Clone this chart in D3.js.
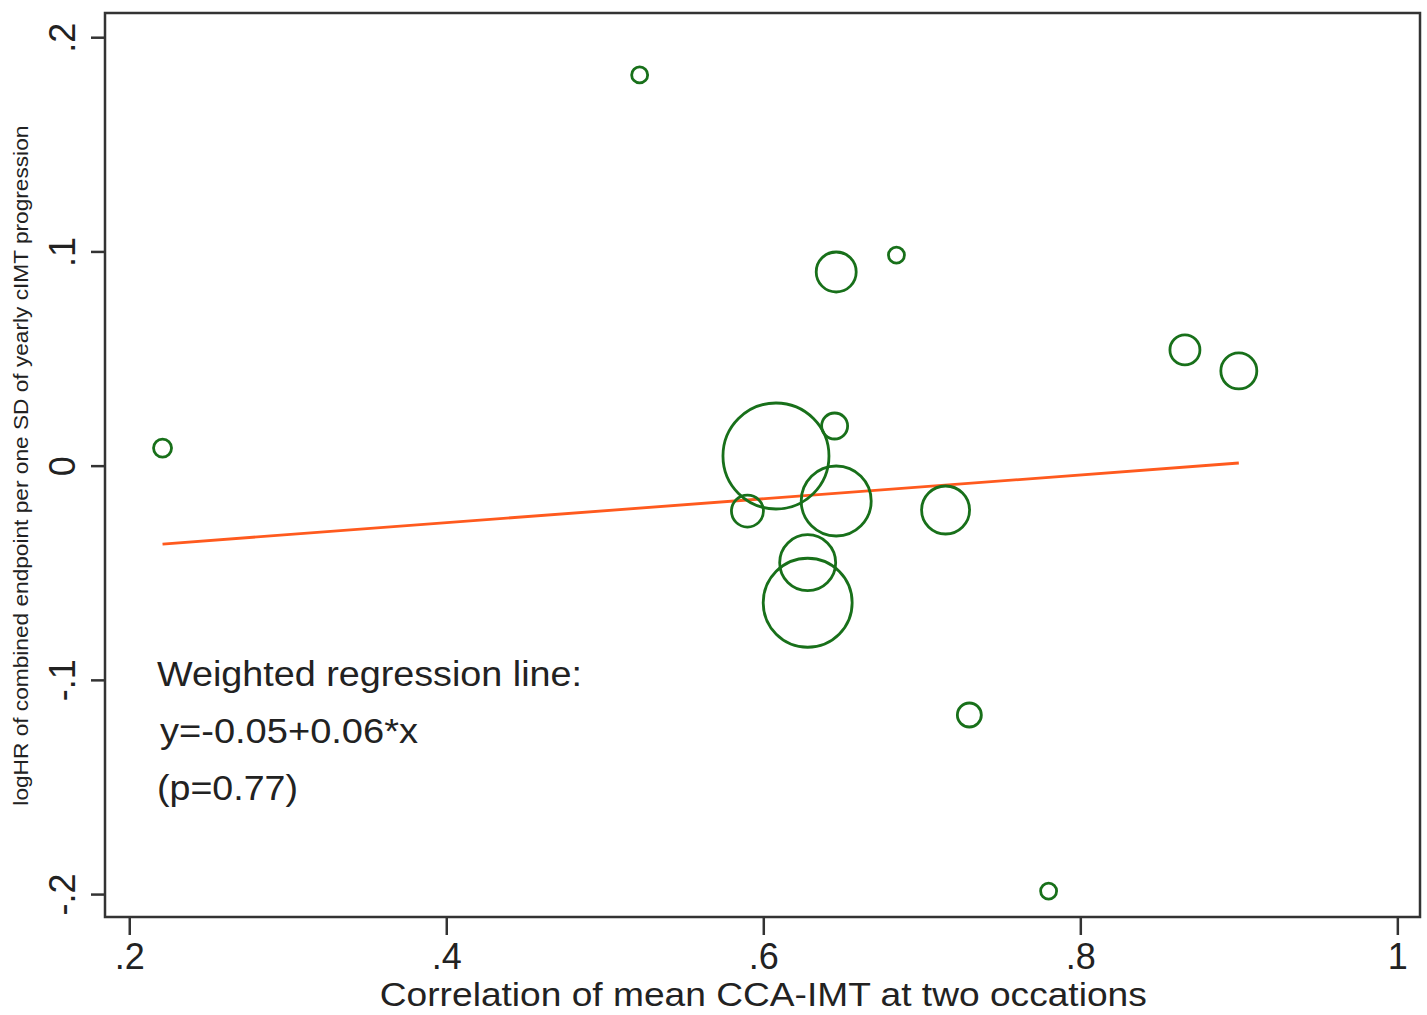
<!DOCTYPE html>
<html>
<head>
<meta charset="utf-8">
<script src="https://cdn.jsdelivr.net/npm/d3@7"></script>
<style>
    body { margin: 0; background: #fff; }
    text { font-family: "Liberation Sans", Arial, sans-serif; fill: #222; }
</style>
</head>
<body>
<div id="chart"></div>
<script>
var svgWidth = 1427;
var svgHeight = 1015;

// plot frame in pixels
var margin = { top: 13, right: 7, bottom: 98, left: 105 };
var width = svgWidth - margin.left - margin.right;
var height = svgHeight - margin.top - margin.bottom;

// study-level data
var corrValues = [0.221, 0.522, 0.646, 0.684, 0.866, 0.900, 0.608, 0.645, 0.590, 0.646, 0.715, 0.628, 0.628, 0.730, 0.780];
var logHR = [0.0082, 0.1824, 0.0904, 0.0983, 0.0540, 0.0442, 0.0045, 0.0185, -0.0212, -0.0165, -0.0207, -0.0453, -0.0640, -0.1164, -0.1986];
var weights = [8.1, 6.4, 40, 6.4, 22.5, 32.4, 281, 16.9, 25.6, 122.5, 57.6, 78.4, 198, 14.4, 6.4];

// weighted regression line
var intercept = -0.0489;
var slope = 0.0557;

var xTicks = [0.2, 0.4, 0.6, 0.8, 1];
var yTicks = [-0.2, -0.1, 0, 0.1, 0.2];
var xTickLabels = [".2", ".4", ".6", ".8", "1"];
var yTickLabels = ["-.2", "-.1", "0", ".1", ".2"];
var noteLines = ["Weighted regression line:", "y=-0.05+0.06*x", "(p=0.77)"];
var noteWidths = [425, 258, 141];

var points = corrValues.map((x, i) => ({ x: x, y: logHR[i], w: weights[i] }));

var svg = d3.select("#chart")
    .append("svg")
    .attr("width", svgWidth)
    .attr("height", svgHeight);

var chartGroup = svg.append("g")
    .attr("transform", `translate(${margin.left}, ${margin.top})`);

var xScale = d3.scaleLinear().domain([0.1847, 1.0143]).range([0, width]);
var yScale = d3.scaleLinear().domain([-0.2107, 0.2113]).range([height, 0]);
var rScale = d3.scaleSqrt().domain([0, d3.max(weights)]).range([0, 53]);

// frame
chartGroup.append("rect")
    .attr("width", width)
    .attr("height", height)
    .attr("fill", "none")
    .attr("stroke", "#333")
    .attr("stroke-width", 2.5);

// x axis
var xAxis = chartGroup.append("g")
    .attr("transform", `translate(0, ${height})`)
    .call(d3.axisBottom(xScale)
        .tickValues(xTicks)
        .tickSize(18)
        .tickPadding(8)
        .tickFormat((d, i) => xTickLabels[i]));
xAxis.select(".domain").remove();
xAxis.selectAll("line").attr("stroke", "#333").attr("stroke-width", 2.5);
xAxis.selectAll("text")
    .style("font-size", "36px")
    .style("font-family", "Liberation Sans, Arial, sans-serif")
    .attr("fill", "#222");

// y axis, labels rotated like stata
var yAxis = chartGroup.append("g")
    .call(d3.axisLeft(yScale)
        .tickValues(yTicks)
        .tickSize(14)
        .tickFormat((d, i) => yTickLabels[i]));
yAxis.select(".domain").remove();
yAxis.selectAll("line").attr("stroke", "#333").attr("stroke-width", 2.5);
yAxis.selectAll("text")
    .attr("x", null).attr("dy", null)
    .attr("transform", "translate(-30, 0) rotate(-90)")
    .attr("text-anchor", "middle")
    .style("font-size", "36px")
    .style("font-family", "Liberation Sans, Arial, sans-serif")
    .attr("fill", "#222");

// regression line over the data range
var xExtent = d3.extent(corrValues);
chartGroup.append("line")
    .attr("x1", xScale(xExtent[0]))
    .attr("y1", yScale(intercept + slope * xExtent[0]))
    .attr("x2", xScale(xExtent[1]))
    .attr("y2", yScale(intercept + slope * xExtent[1]))
    .attr("stroke", "#ff5a1e")
    .attr("stroke-width", 2.8);

// bubbles
chartGroup.selectAll("circle.study")
    .data(points)
    .enter()
    .append("circle")
    .classed("study", true)
    .attr("cx", d => xScale(d.x))
    .attr("cy", d => yScale(d.y))
    .attr("r", d => rScale(d.w))
    .attr("fill", "none")
    .attr("stroke", "#18701a")
    .attr("stroke-width", 2.8);

// annotation
chartGroup.selectAll("text.note")
    .data(noteLines)
    .enter()
    .append("text")
    .classed("note", true)
    .attr("x", (d, i) => i === 1 ? 55 : 52)
    .attr("y", (d, i) => 673 + i * 57)
    .attr("textLength", (d, i) => noteWidths[i])
    .attr("lengthAdjust", "spacingAndGlyphs")
    .style("font-size", "35px")
    .text(d => d);

// axis titles
svg.append("text")
    .attr("x", margin.left + xScale(0.6))
    .attr("y", 1006)
    .attr("text-anchor", "middle")
    .attr("textLength", 767)
    .attr("lengthAdjust", "spacingAndGlyphs")
    .style("font-size", "34px")
    .text("Correlation of mean CCA-IMT at two occations");

svg.append("text")
    .attr("transform", `translate(28, ${margin.top + yScale(0)}) rotate(-90)`)
    .attr("text-anchor", "middle")
    .attr("textLength", 680)
    .attr("lengthAdjust", "spacingAndGlyphs")
    .style("font-size", "20px")
    .text("logHR of combined endpoint per one SD of yearly cIMT progression");
</script>
</body>
</html>
